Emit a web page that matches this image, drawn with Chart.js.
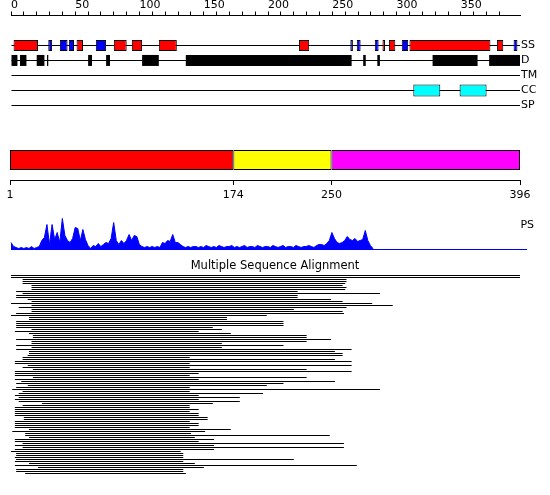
<!DOCTYPE html>
<html lang="en">
<head>
<meta charset="UTF-8">
<title>Sequence feature summary</title>
<script src="https://cdn.jsdelivr.net/npm/chart.js"></script>
<style>
  body { margin: 0; background: #fff; }
  #wrap { position: relative; width: 550px; height: 495px; }
  canvas { position: absolute; left: 0; }
</style>
</head>
<body>
<div id="wrap">
  <canvas id="features" width="550" height="113" style="top:0px"></canvas>
  <canvas id="domains" width="550" height="64" style="top:140px"></canvas>
  <canvas id="profile" width="550" height="50" style="top:205px"></canvas>
  <canvas id="msa" width="550" height="220" style="top:259px"></canvas>
</div>
<script>
// sequence + feature tracks (residue ranges)
const seqLength = 396;
const trackLabels = ['', '', 'SS', 'D', 'TM', 'CC', 'SP'];
const tracks = ['SS', 'D', 'TM', 'CC', 'SP'];
const helices = [[2,21],[51,56],[80,90],[94,102],[115,129],[224,232],[289,291],[294,299],[310,373],[378,383]];
const strands = [[29,32],[38,44],[45,49],[66,74],[264,266],[269,272],[283,286],[304,309],[391,394]];
const disorder = [[0,5],[7,12],[20,26],[28,29],[60,63],[74,77],[102,115],[136,265],[274,276],[285,287],[328,363],[372,396]];
const coiledCoils = [[313,334],[349,370]];

// domain boundaries
const domainBounds = [1, 174, 250, 396];

// PS profile, one value every psStep residues
const psStep = 2;
const psValues = [7,3,2,1,2,1,2,1,3,1, 2,3,9,12,25,5,25,10,17,7, 31,14,9,7,11,22,21,9,20,10,
  4,1,4,3,6,3,5,7,6,11, 27,9,5,9,6,9,15,9,14,13, 5,3,2,3,2,3,2,3,2,7,
  6,9,8,15,7,7,5,3,2,3, 2,3,3,2,3,2,4,3,2,3, 2,4,3,2,3,3,4,2,3,2,
  3,4,2,3,3,2,4,3,2,3, 3,2,4,3,2,3,4,2,3,3, 2,4,3,2,3,3,4,3,2,4,
  5,5,4,6,9,17,11,7,6,7, 9,13,10,9,11,8,9,10,19,9, 4,1];

// alignment hits: start / end residue of each aligned sequence
const msaStart = [0,0,9,9,9,16,16,16,4,9, 4,4,13,16,0,16,6,16,16,4, 0,14,14,4,4,4,4,16,3,14,
  17,17,4,16,16,4,16,4,14,14, 13,9,9,3,3,13,9,17,3,3, 3,17,3,8,4,13,4,1,9,6,
  3,6,3,6,24,9,3,3,3,3, 3,10,10,3,3,3,3,14,1,11, 11,14,3,3,9,3,9,3,0,4,
  4,3,4,3,14,3,21,4,4,11];
const msaEnd = [396,396,261,261,260,258,261,260,223,287, 223,223,249,258,281,297,261,220,258,259,
  199,168,168,212,212,212,157,164,146,171, 230,230,249,230,164,212,164,265,252,258,
  258,139,252,265,139,265,139,230,265,146, 139,230,146,252,212,199,139,287,139,196,
  146,178,146,178,157,139,139,146,139,146, 146,153,153,139,146,146,139,171,151,140,
  248,143,158,146,259,158,259,158,132,134, 134,134,220,134,143,269,150,134,134,136];

Chart.defaults.font.family = 'DejaVu Sans';
Chart.defaults.font.size = 11;
Chart.defaults.color = '#000';
Chart.defaults.animation = false;
Chart.defaults.plugins.legend.display = false;
Chart.defaults.plugins.tooltip.enabled = false;

function onTrack(list, track) {
  return list.map(r => ({ x: r, y: track }));
}

const boxBase = { borderSkipped: false, inflateAmount: 0, grouped: false, clip: false };

new Chart(document.getElementById('features'), {
  type: 'bar',
  data: {
    labels: trackLabels,
    datasets: [
      { ...boxBase, data: onTrack(helices, 'SS'), backgroundColor: '#ff0000', borderColor: '#000', borderWidth: 1, barThickness: 11, order: 0 },
      { ...boxBase, data: onTrack(strands, 'SS'), backgroundColor: '#0000ff', borderColor: '#000', borderWidth: 1, barThickness: 11, order: 0 },
      { ...boxBase, data: onTrack(disorder, 'D'), backgroundColor: '#000', borderWidth: 0, barThickness: 11, order: 0 },
      { ...boxBase, data: onTrack(coiledCoils, 'CC'), backgroundColor: '#00ffff', borderColor: '#000', borderWidth: 1, barThickness: 12, order: 0 },
      { ...boxBase, data: tracks.map(t => ({ x: [0, seqLength], y: t })), backgroundColor: '#000', borderWidth: 0, barThickness: 1, order: 10 }
    ]
  },
  options: {
    indexAxis: 'y',
    responsive: false,
    devicePixelRatio: 1,
    layout: { padding: { left: 11, right: 0, top: 0, bottom: 7.5 } },
    scales: {
      x: {
        type: 'linear', position: 'top', min: 0, max: seqLength,
        afterBuildTicks: s => { s.ticks = s.ticks.filter(t => t.value % 10 === 0); },
        afterFit: s => { s.height = 15.5; },
        ticks: { stepSize: 10, autoSkip: false, maxRotation: 0, align: 'start', padding: 0,
                 callback: v => (v % 50 === 0 ? v : '') },
        grid: { drawOnChartArea: false, tickLength: 4, color: '#000' },
        border: { color: '#000' }
      },
      y: {
        type: 'category', position: 'right', offset: false,
        afterFit: s => { s.width = 30; },
        grid: { display: false, drawTicks: false },
        border: { display: false },
        ticks: { padding: 1, autoSkip: false }
      }
    }
  }
});

const domainColors = ['#ff0000', '#ffff00', '#ff00ff'];
new Chart(document.getElementById('domains'), {
  type: 'bar',
  data: {
    labels: [''],
    datasets: domainBounds.slice(1).map((end, i) => ({
      ...boxBase,
      data: [{ x: [domainBounds[i], end], y: '' }],
      backgroundColor: domainColors[i], borderColor: '#000', borderWidth: 1, barThickness: 20
    }))
  },
  options: {
    indexAxis: 'y',
    responsive: false,
    devicePixelRatio: 1,
    layout: { padding: { left: 10, right: 30 } },
    scales: {
      x: {
        type: 'linear', min: 1, max: seqLength,
        afterBuildTicks: s => { s.ticks = domainBounds.map(v => ({ value: v })); },
        afterFit: s => { s.height = 24; },
        ticks: { autoSkip: false, maxRotation: 0, padding: 4 },
        grid: { drawOnChartArea: false, tickLength: 5, color: '#000' },
        border: { color: '#000' }
      },
      y: { display: false }
    }
  }
});

const psMax = 402;
new Chart(document.getElementById('profile'), {
  type: 'line',
  data: {
    datasets: [
      { data: psValues.map((v, i) => ({ x: i * psStep, y: v })), borderColor: '#0000ff', backgroundColor: '#0000ff',
        borderWidth: 1, fill: 'origin', pointRadius: 0, tension: 0, clip: false },
      { data: [{ x: 0, y: 0 }, { x: psMax, y: 0 }], borderColor: '#0000ff', borderWidth: 1, pointRadius: 0, clip: false }
    ]
  },
  options: {
    responsive: false,
    devicePixelRatio: 1,
    layout: { padding: { left: 11, top: 13, bottom: 5 } },
    scales: {
      x: { type: 'linear', display: false, min: 0, max: psMax },
      y: {
        position: 'right', min: -0.5, max: 31.5,
        afterFit: s => { s.width = 23; s.paddingTop = 0; s.paddingBottom = 0; },
        afterBuildTicks: s => { s.ticks = [{ value: 24 }]; },
        ticks: { mirror: true, padding: 7, callback: () => 'PS' },
        grid: { display: false, drawTicks: false },
        border: { display: false }
      }
    }
  }
});

const pxPerRes = 509 / seqLength;
new Chart(document.getElementById('msa'), {
  type: 'bar',
  data: {
    labels: msaStart.map((s, i) => String(i + 1)),
    datasets: [{
      ...boxBase,
      data: msaStart.map((s, i) => [s, msaEnd[i]]),
      backgroundColor: '#000', borderWidth: 0, barThickness: 1
    }]
  },
  options: {
    indexAxis: 'y',
    responsive: false,
    devicePixelRatio: 1,
    layout: { padding: { bottom: 4.5 } },
    plugins: {
      title: { display: true, text: 'Multiple Sequence Alignment', color: '#000',
               font: { size: 11.5, weight: 'normal' }, padding: { top: 0.6, bottom: 1.1 } }
    },
    scales: {
      x: { type: 'linear', display: false, min: -11 / pxPerRes, max: seqLength + 30 / pxPerRes },
      y: { display: false }
    }
  }
});
</script>
</body>
</html>
